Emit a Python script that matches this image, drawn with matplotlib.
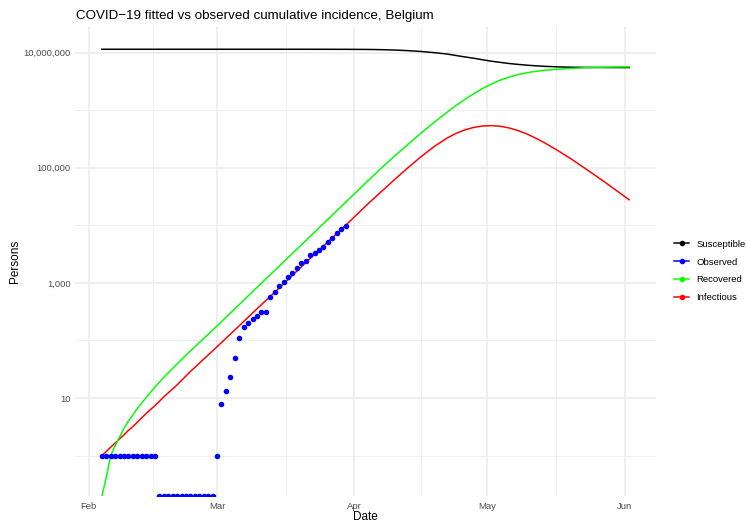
import numpy as np
import matplotlib
matplotlib.use('Agg')
import matplotlib.pyplot as plt
import matplotlib.dates as mdates
from matplotlib.lines import Line2D
from matplotlib.ticker import FixedLocator, FuncFormatter, NullFormatter

start_date = np.datetime64('2020-02-04')
fit_days = np.array([0, 1, 2, 3, 4, 5, 6, 7, 8, 10, 12, 14, 17, 20, 25, 30, 35, 40, 45, 50,
                     55, 60, 63, 66, 69, 72, 75, 78, 80, 82, 84, 86, 88, 90, 92, 94, 96, 98,
                     100, 103, 106, 110, 114, 119])
susceptible = np.array([11.45e6, 11.45e6, 11.45e6, 11.45e6, 11.45e6, 11.45e6, 11.45e6, 11.45e6,
                        11.45e6, 11.45e6, 11.45e6, 11.45e6, 11.45e6, 11.45e6, 11.45e6, 11.45e6,
                        11.45e6, 11.45e6, 11.45e6, 11.44e6, 11.42e6, 11.37e6, 11.27e6, 11.1e6,
                        10.84e6, 10.47e6, 10.0e6, 9.44e6, 8.9e6, 8.41e6, 7.98e6, 7.5e6, 7.08e6,
                        6.76e6, 6.46e6, 6.24e6, 6.05e6, 5.9e6, 5.78e6, 5.66e6, 5.58e6, 5.53e6,
                        5.51e6, 5.5e6])
infectious = np.array([1, 1.18, 1.4, 1.65, 1.95, 2.3, 2.75, 3.2, 3.8, 5.4, 7.4, 10.5, 17, 29, 66,
                       152, 355, 810, 1900, 4360, 10000, 23400, 38100, 61800, 98900, 155000,
                       234000, 331000, 398000, 457000, 504000, 532000, 540000, 525000, 490000,
                       441000, 384000, 325000, 269000, 197000, 141000, 87100, 53000, 27800])
recovered = np.array([0, 0.42, 1.0, 1.5, 2.1, 3.0, 4.0, 5.1, 6.6, 10.2, 15.5, 22.9, 39.4, 66, 151,
                      355, 832, 1950, 4570, 10700, 25100, 58900, 97700, 158500, 251000, 398000,
                      617000, 933000, 1.216e6, 1.55e6, 1.95e6, 2.40e6, 2.88e6, 3.35e6, 3.78e6,
                      4.17e6, 4.49e6, 4.74e6, 4.94e6, 5.16e6, 5.33e6, 5.51e6, 5.60e6, 5.66e6])

# observed cumulative incidence, 2020-02-04 .. 2020-03-30
observed = np.array([1, 1, 1, 1, 1, 1, 1, 1, 1, 1, 1, 1, 1,
                     0, 0, 0, 0, 0, 0, 0, 0, 0, 0, 0, 0, 0,
                     1, 8, 13, 23, 50, 109, 169, 200, 239, 267, 314, 314, 559, 689, 886,
                     1058, 1243, 1486, 1795, 2200, 2420, 3030, 3350, 3660, 4130, 5100,
                     6020, 7440, 8740, 9640])

legend_labels = ['Susceptible', 'Observed', 'Recovered', 'Infectious']
legend_colors = ['black', 'blue', '#00FF00', 'red']
y_breaks = [10, 1000, 100000, 10000000]
y_minor = [1, 100, 10000, 1000000]

fit_dates = start_date + fit_days.astype('timedelta64[D]')
obs_dates = start_date + np.arange(len(observed)).astype('timedelta64[D]')

plt.rcParams['font.family'] = ['Liberation Sans', 'DejaVu Sans']
grey = '#4D4D4D'
grid = '#EBEBEB'

fig = plt.figure(figsize=(7.46, 5.23), dpi=100)
ax = fig.add_axes([0.1012, 0.0507, 0.7775, 0.8977])
ax.set_yscale('log')
ax.set_ylim(0.195, 2.79e7)
lo = ax.get_ylim()[0]

x0 = mdates.date2num(fit_dates[0])
x1 = mdates.date2num(fit_dates[-1])
pad = 0.05 * (x1 - x0)
ax.set_xlim(x0 - pad, x1 + pad)

# zeros go to the bottom edge of the panel, like ggplot does with -Inf
rec_plot = np.where(recovered > 0, recovered, lo)
obs_plot = np.where(observed > 0, observed, lo)

lw = 1.08
ax.plot(fit_dates, infectious, color='red', lw=lw)
ax.plot(fit_dates, susceptible, color='black', lw=lw)
ax.plot(fit_dates, rec_plot, color='#00FF00', lw=lw)
ax.plot(obs_dates, obs_plot, 'o', color='blue', ms=4.0, mew=0, clip_on=True)

# axes styling (theme_minimal look)
for s in ax.spines.values():
    s.set_visible(False)
ax.yaxis.set_major_locator(FixedLocator(y_breaks))
ax.yaxis.set_minor_locator(FixedLocator(y_minor))
ax.yaxis.set_major_formatter(FuncFormatter(lambda v, p: f'{v:,.0f}'))
ax.yaxis.set_minor_formatter(NullFormatter())
ax.xaxis.set_major_locator(mdates.MonthLocator())
ax.xaxis.set_major_formatter(mdates.DateFormatter('%b'))
majors = [mdates.date2num(np.datetime64(d)) for d in
          ['2020-01-01', '2020-02-01', '2020-03-01', '2020-04-01', '2020-05-01', '2020-06-01', '2020-07-01']]
ax.xaxis.set_minor_locator(FixedLocator([(a + b) / 2 for a, b in zip(majors[:-1], majors[1:])]))
ax.tick_params(which='both', length=0)
ax.tick_params(axis='both', labelsize=6.8, labelcolor=grey)
ax.tick_params(axis='x', pad=4)
ax.tick_params(axis='y', pad=3.5)
ax.grid(which='major', color=grid, lw=1.1)
ax.grid(which='minor', color=grid, lw=0.55)
ax.set_axisbelow(True)

ax.set_xlabel('Date', fontsize=8.5)
ax.xaxis.set_label_coords(0.5, -0.03)
ax.set_ylabel('Persons', fontsize=8.5)
ax.yaxis.set_label_coords(-0.094, 0.5)

fig.text(76 / 746, 1 - 19.5 / 523, 'COVID\u221219 fitted vs observed cumulative incidence, Belgium',
         fontsize=9.6, va='baseline', ha='left')

handles = [Line2D([], [], color=c, lw=lw, marker='o', ms=4.0, mew=0) for c in legend_colors]
fig.legend(handles, legend_labels, loc='center left', bbox_to_anchor=(674 / 746, 1 - 271 / 523),
           frameon=False, fontsize=6.8, handlelength=1.6, handletextpad=0.75,
           labelspacing=0.95, borderpad=0, borderaxespad=0)

fig.savefig('out.png', dpi=100)
